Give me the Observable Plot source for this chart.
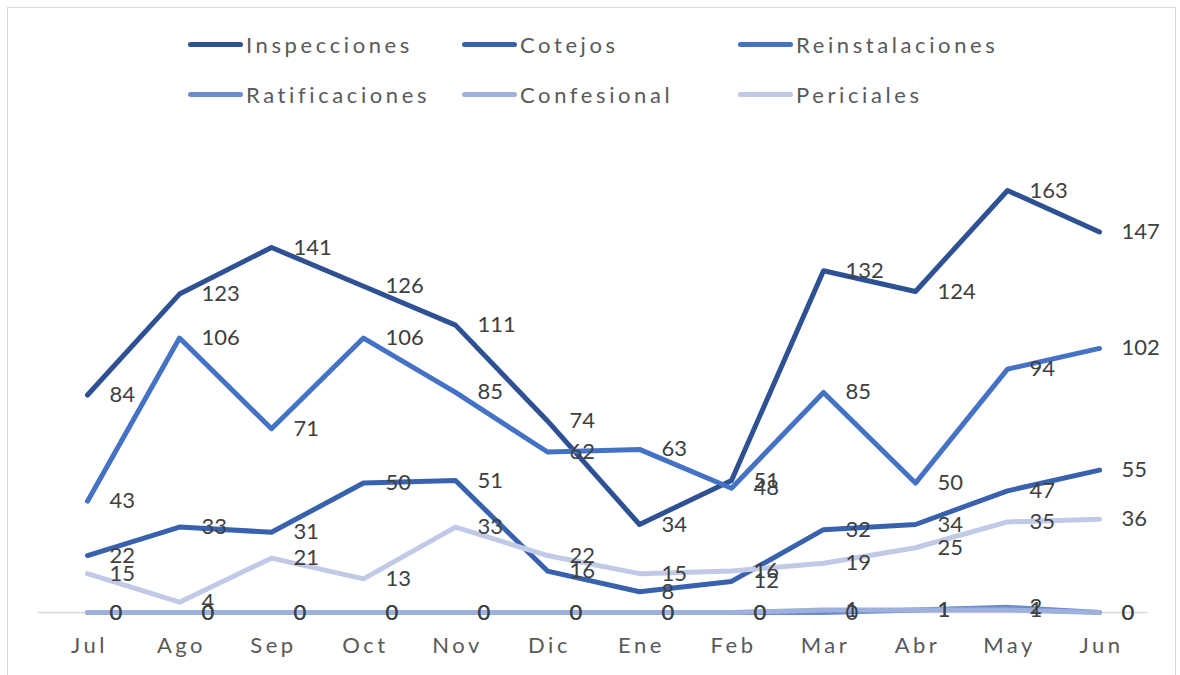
<!DOCTYPE html>
<html>
<head>
<meta charset="utf-8">
<script src="https://cdn.jsdelivr.net/npm/d3@7"></script>
<script src="https://cdn.jsdelivr.net/npm/@observablehq/plot@0.6"></script>
<style>
  body { margin: 0; background: #fff; font-family: Lato, "Noto Sans", sans-serif; }
  #page { position: relative; width: 1180px; height: 675px; overflow: hidden; background: #fff; }
  #border { position: absolute; left: 7px; top: 7px; width: 1169px; height: 700px; border: 1px solid #d9d9d9; box-sizing: border-box; pointer-events: none; }
  #legend { position: relative; height: 120px; }
  .item { position: absolute; display: flex; align-items: center; font-size: 22px; color: #595959; letter-spacing: 3.6px; white-space: nowrap; }
  .sw { width: 55px; height: 5px; border-radius: 3px; margin-right: 3px; }
  #chart svg { display: block; }
  #chart [aria-label="x-axis tick label"] { letter-spacing: 3.5px; }
</style>
</head>
<body>
<div id="page">
  <div id="border"></div>
  <div id="legend"></div>
  <div id="chart"></div>
</div>
<script>
const months = ["Jul","Ago","Sep","Oct","Nov","Dic","Ene","Feb","Mar","Abr","May","Jun"];
const seriesNames = ["Inspecciones","Cotejos","Reinstalaciones","Ratificaciones","Confesional","Periciales"];
const inspecciones    = [84,123,141,126,111,74,34,51,132,124,163,147];
const cotejos         = [22,33,31,50,51,16,8,12,32,34,47,55];
const reinstalaciones = [43,106,71,106,85,62,63,48,85,50,94,102];
const ratificaciones  = [0,0,0,0,0,0,0,0,0,1,2,0];
const confesional     = [0,0,0,0,0,0,0,0,1,1,1,0];
const periciales      = [15,4,21,13,33,22,15,16,19,25,35,36];
const colors = ["#2e5193","#3862ad","#4472c4","#6c8bd0","#9eb0dc","#c0cae6"];

const seriesValues = [inspecciones, cotejos, reinstalaciones, ratificaciones, confesional, periciales];
const data = seriesNames.flatMap((s, i) => months.map((m, j) => ({series: s, month: m, value: seriesValues[i][j]})));

// Legend
const legendPos = [[188,45],[462,45],[738,45],[188,95],[462,95],[738,95]];
const legend = document.getElementById("legend");
seriesNames.forEach((s, i) => {
  const d = document.createElement("div");
  d.className = "item";
  d.style.left = legendPos[i][0] + "px";
  d.style.top = (legendPos[i][1] - 15) + "px";
  d.style.height = "28px";
  d.innerHTML = `<span class="sw" style="background:${colors[i]}"></span><span>${s}</span>`;
  legend.appendChild(d);
});

const chart = Plot.plot({
  width: 1180,
  height: 555,
  marginLeft: 38,
  marginRight: 32,
  marginTop: 26,
  marginBottom: 63,
  style: {fontFamily: "Lato, 'Noto Sans', sans-serif", background: "transparent"},
  x: {type: "point", domain: months, padding: 0.5, label: null},
  y: {domain: [0, 180], axis: null},
  color: {domain: seriesNames, range: colors},
  marks: [
    Plot.ruleY([0], {stroke: "#d9d9d9", strokeWidth: 1.5}),
    Plot.axisX({tickSize: 0, tickPadding: 25, fontSize: 22, fill: "#595959", dx: 2, label: null}),
    ...seriesNames.map(s => Plot.line(data.filter(d => d.series === s), {
      x: "month", y: "value", stroke: colors[seriesNames.indexOf(s)], strokeWidth: 5,
      strokeLinecap: "round", strokeLinejoin: "round"
    })),
    Plot.text(data, {x: "month", y: "value", text: d => String(d.value), dx: 22, textAnchor: "start",
      fontSize: 22, fill: "#404040"})
  ]
});
document.getElementById("chart").appendChild(chart);
</script>
</body>
</html>
